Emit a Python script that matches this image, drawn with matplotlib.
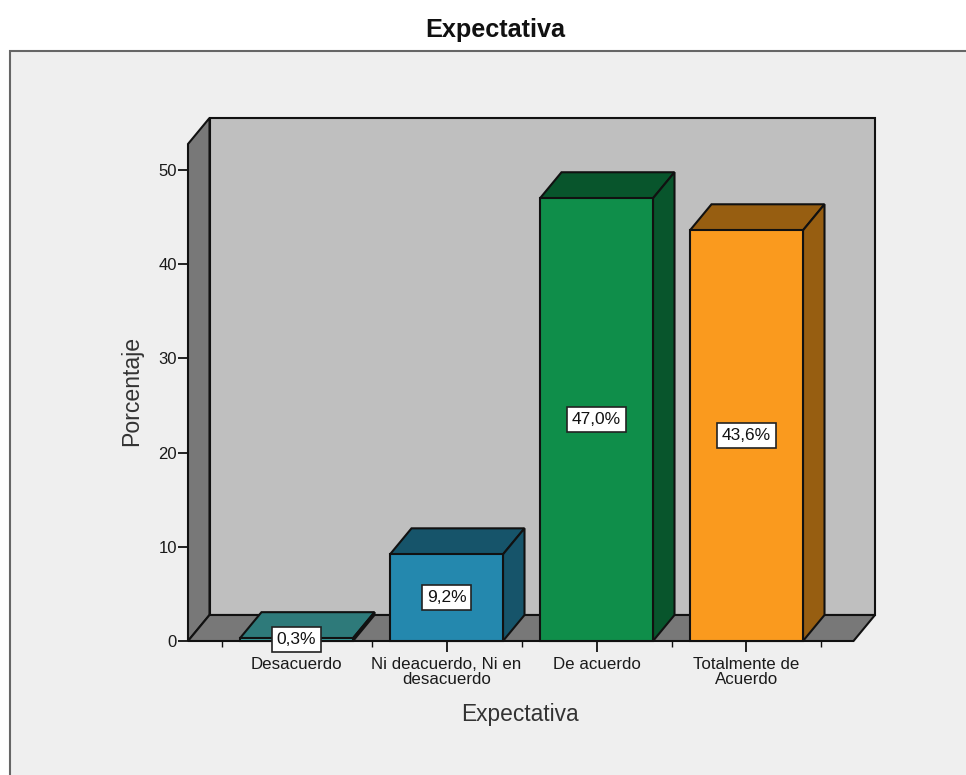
import matplotlib
matplotlib.use("Agg")
import matplotlib.pyplot as plt
from matplotlib.patches import Polygon, Rectangle

plt.rcParams['font.family'] = ['Liberation Sans', 'DejaVu Sans']

# Survey results
categories = ["Desacuerdo", "Ni deacuerdo, Ni en\ndesacuerdo", "De acuerdo", "Totalmente de\nAcuerdo"]
percentages = [0.3, 9.2, 47.0, 43.6]
value_labels = ["0,3%", "9,2%", "47,0%", "43,6%"]
y_ticks = [0, 10, 20, 30, 40, 50]

# Bar colours: front, then the darker top and side
front_colors = ["#3C9C9C", "#2488AE", "#0F8E4A", "#FA9A1E"]
shade_colors = ["#2E7A7A", "#16546A", "#08552C", "#975E11"]

W, H = 966, 775
PX_PER_UNIT = 9.42
PX_PER_CAT = 150.0
LEFT, RIGHT, BASE, TOP = 188, 875, 641, 118
LW = 1.5
INK = "#111111"

fig = plt.figure(figsize=(W / 100, H / 100), dpi=100, facecolor="white")

# Chart panel, running off the right and bottom edges of the figure
fig.add_artist(Rectangle((10 / W, -0.1), 1.1, 1.1 - 51 / H, transform=fig.transFigure,
                         facecolor="#EFEFEF", edgecolor="#666666", linewidth=1.5, zorder=-1))

ax = fig.add_axes([LEFT / W, 1 - BASE / H, (RIGHT - LEFT) / W, (BASE - TOP) / H])
ax.patch.set_visible(False)
for spine in ax.spines.values():
    spine.set_visible(False)

# Category i sits at data x = i; front plane left edge is 108.5 px from the first centre
ax.set_xlim(-108.5 / PX_PER_CAT, (RIGHT - LEFT - 108.5) / PX_PER_CAT)
ax.set_ylim(0, (BASE - TOP) / PX_PER_UNIT)

depth_x = 21.5 / PX_PER_CAT
depth_y = 26 / PX_PER_UNIT
x0 = ax.get_xlim()[0]
x1 = ax.get_xlim()[1] - depth_x
wall_top = ax.get_ylim()[1] - depth_y
half = 56.5 / PX_PER_CAT


def poly(points, color, z):
    ax.add_patch(Polygon(points, closed=True, facecolor=color, edgecolor=INK,
                         linewidth=LW, joinstyle="miter", clip_on=False, zorder=z))


# Back wall, side wall and floor of the 3D box
poly([(x0 + depth_x, depth_y), (x1 + depth_x, depth_y),
      (x1 + depth_x, wall_top + depth_y), (x0 + depth_x, wall_top + depth_y)], "#BFBFBF", 1)
poly([(x0, 0), (x0 + depth_x, depth_y), (x0 + depth_x, wall_top + depth_y), (x0, wall_top)], "#787878", 1.1)
poly([(x0, 0), (x1, 0), (x1 + depth_x, depth_y), (x0 + depth_x, depth_y)], "#787878", 1.2)

# Bars with their top and side faces
for i, (val, label, front, shade) in enumerate(zip(percentages, value_labels, front_colors, shade_colors)):
    a, b = i - half, i + half
    z = 2 + i * 0.1
    poly([(a, val), (b, val), (b + depth_x, val + depth_y), (a + depth_x, val + depth_y)], shade, z)
    poly([(b, 0), (b + depth_x, depth_y), (b + depth_x, val + depth_y), (b, val)], shade, z)
    poly([(a, 0), (b, 0), (b, val), (a, val)], front, z + 0.01)
    ax.text(i, val / 2, label, ha="center", va="center", fontsize=12.5, color="#111111", zorder=5,
            bbox=dict(boxstyle="square,pad=0.28", facecolor="white", edgecolor="#222222", linewidth=1.2))

# Axes ticks and labels
ax.set_yticks(y_ticks)
ax.tick_params(axis="y", length=7, width=1.3, color=INK, labelsize=12, labelcolor="#1A1A1A", pad=1)
ax.set_xticks(range(len(categories)))
ax.set_xticklabels(categories, fontsize=12.2, color="#1A1A1A", linespacing=1.02)
ax.set_xticks([i - 0.5 for i in range(len(categories) + 1)], minor=True)
ax.tick_params(axis="x", which="major", length=8, width=1.3, color=INK, pad=3.5)
ax.tick_params(axis="x", which="minor", length=4, width=1.0, color=INK)

fig.text(132 / W, 1 - 391 / H, "Porcentaje", rotation=90, ha="center", va="center",
         fontsize=16.6, color="#333333")
fig.text(520 / W, 1 - 714 / H, "Expectativa", ha="center", va="center", fontsize=16.4, color="#333333")
fig.text(495 / W, 1 - 30 / H, "Expectativa", ha="center", va="center", fontsize=18.2,
         fontweight="bold", color="#111111")

fig.savefig("out.png", dpi=100, facecolor=fig.get_facecolor())
